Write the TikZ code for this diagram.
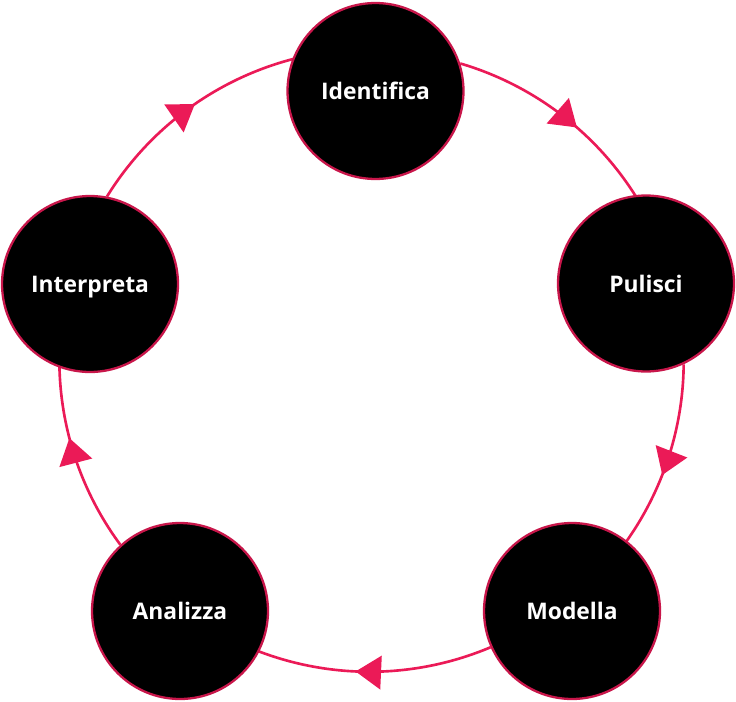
\documentclass[tikz,border=0pt]{standalone}
\usepackage{fontspec}
\setmainfont{Open Sans}
\usetikzlibrary{arrows.meta,decorations.markings}
\definecolor{rosa}{HTML}{EB1A57}
\pgfdeclarelayer{bg}
\pgfsetlayers{bg,main}
\begin{document}
\begin{tikzpicture}[x=0.02cm,y=0.02cm,
        fase/.style={draw=rosa!85!black,circle,fill=black,line width=1.3pt,minimum size=3.52cm,inner sep=0pt,text depth=0pt,text=white,font=\bfseries\fontsize{13}{15}\selectfont},
        giro/.style={draw=rosa,color=rosa,line width=1.5pt,postaction={decorate},decoration={markings,mark=at position #1 with {\arrow{Triangle[length=14.5pt,width=19pt]}}}}
      ]
      \useasboundingbox (0,0) rectangle (736,701);
      \node[fase] (identifica) at (375.5,610) {Identifica};
      \node[fase] (pulisci) at (646,417.5) {Pulisci};
      \node[fase] (modella) at (572,90) {Modella};
      \node[fase] (analizza) at (180,90) {Analizza};
      \node[fase] (interpreta) at (90,417) {Interpreta};
      \begin{pgfonlayer}{bg}
        \draw[giro=0.554] (identifica.18.8) arc[start angle=73.6,end angle=29,radius=311];
        \draw[giro=0.553] (pulisci.-65.8) arc[start angle=-0.5,end angle=-38.3,radius=311];
        \draw[giro=0.541] (modella.204.5) arc[start angle=-67.1,end angle=-114.2,radius=311];
        \draw[giro=0.569] (analizza.132.2) arc[start angle=-143.5,end angle=-182,radius=311];
        \draw[giro=0.506] (interpreta.79.3) arc[start angle=148.3,end angle=101.5,radius=311];
      \end{pgfonlayer}
    \end{tikzpicture}
\end{document}
